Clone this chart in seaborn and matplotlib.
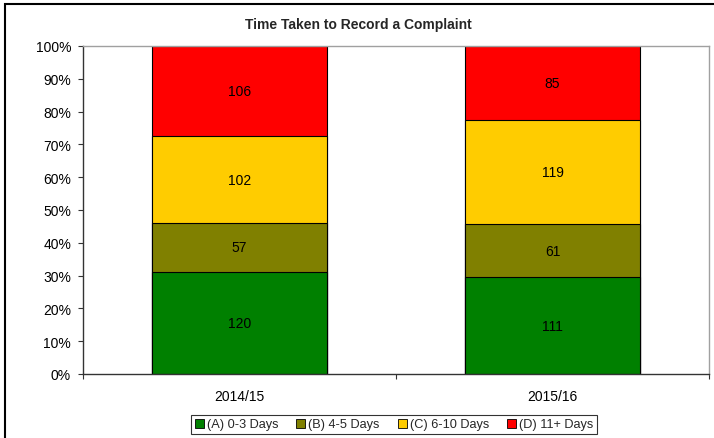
import numpy as np
import pandas as pd
import matplotlib
matplotlib.use("Agg")
import matplotlib.pyplot as plt
from matplotlib.patches import Rectangle, Patch
from matplotlib.ticker import PercentFormatter, FixedLocator, MultipleLocator
import seaborn as sns

# Complaint counts per recording-time band, by year
years = ["2014/15", "2015/16"]
bands = ["(A) 0-3 Days", "(B) 4-5 Days", "(C) 6-10 Days", "(D) 11+ Days"]
band_colors = ["#008000", "#808000", "#FFCC00", "#FF0000"]
counts_2014 = [120, 57, 102, 106]
counts_2015 = [111, 61, 119, 85]

sns.set_theme(style="white")
plt.rcParams["font.family"] = ["Liberation Sans", "DejaVu Sans"]

df = pd.DataFrame({
    "year": np.repeat(years, len(bands)),
    "band": bands * len(years),
    "count": counts_2014 + counts_2015,
})
df["share"] = df["count"] / df.groupby("year")["count"].transform("sum") * 100
df["top"] = df.groupby("year")["share"].cumsum()
df["bottom"] = df["top"] - df["share"]

fig = plt.figure(figsize=(7.14, 4.39), dpi=100)
ax = fig.add_axes([83 / 714, 1 - 375 / 439, (709 - 83) / 714, (375 - 47) / 439])

# 100% stacked bars: draw cumulative heights from the top band down
for band, color in reversed(list(zip(bands, band_colors))):
    sub = df[df["band"] == band]
    sns.barplot(data=sub, x="year", y="top", order=years, color=color,
                width=0.557, edgecolor="black", linewidth=0.8,
                saturation=1, errorbar=None, ax=ax)

# Count labels in the middle of each segment
for _, row in df.iterrows():
    ax.text(years.index(row["year"]), row["bottom"] + row["share"] / 2,
            str(row["count"]), ha="center", va="center", fontsize=10,
            color="black")

ax.set_xlim(-0.5, 1.5)
ax.set_ylim(0, 100)
ax.set_xlabel("")
ax.set_ylabel("")
ax.yaxis.set_major_locator(MultipleLocator(10))
ax.yaxis.set_major_formatter(PercentFormatter(decimals=0))
ax.xaxis.set_minor_locator(FixedLocator([-0.5, 0.5, 1.5]))

ax.tick_params(axis="y", which="major", left=True, direction="out",
               length=3.6, width=0.8, color="#333333", pad=5,
               labelsize=10, labelcolor="black")
ax.tick_params(axis="x", which="major", bottom=True, length=0, pad=11,
               labelsize=10, labelcolor="black")
ax.tick_params(axis="x", which="minor", bottom=True, direction="out",
               length=3.6, width=0.8, color="#333333")

for side in ["left", "bottom"]:
    ax.spines[side].set_color("#333333")
    ax.spines[side].set_linewidth(1.0)
for side in ["top", "right"]:
    ax.spines[side].set_color("#a0a0a0")
    ax.spines[side].set_linewidth(1.0)

fig.text(0.502, 1 - 25 / 439, "Time Taken to Record a Complaint",
         ha="center", va="center", fontsize=10, fontweight="bold")

handles = [Patch(facecolor=c, edgecolor="black", linewidth=0.6)
           for c in band_colors]
leg = fig.legend(handles, bands, loc="center",
                 bbox_to_anchor=(394 / 714, 1 - 425.5 / 439), ncol=4,
                 fontsize=9.2, frameon=True, fancybox=False,
                 edgecolor="black", handlelength=0.7, handleheight=0.7,
                 handletextpad=0.25, columnspacing=1.4, borderpad=0.3)
leg.get_frame().set_linewidth(0.8)

# Chart frame around the whole figure
fig.patches.append(Rectangle((5 / 714, -0.2), 2.0, 1.2 - 4.5 / 439,
                             transform=fig.transFigure, fill=False,
                             edgecolor="black", linewidth=1.5))

fig.savefig("out.png", dpi=100, facecolor="white")
